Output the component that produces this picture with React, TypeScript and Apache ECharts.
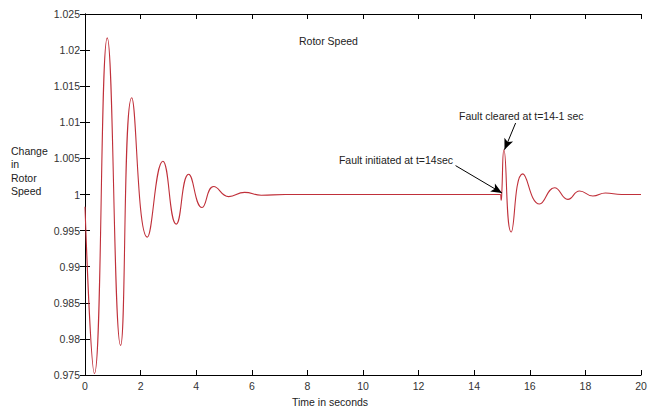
import React, { useEffect, useRef } from "react";
import * as echarts from "echarts";

// Rotor speed response (per unit) read at the turning points of the swing
const timeSec = [
  0, 0.34, 0.8, 1.28, 1.68, 2.24, 2.8, 3.28, 3.73, 4.21, 4.63, 5.17, 5.74, 6.34,
  7.2, 8, 10, 12, 14, 14.94, 14.97, 14.99, 15.07, 15.33, 15.75, 16.35, 16.89,
  17.37, 17.79, 18.27, 18.72, 19.3, 20,
];
const rotorSpeed = [
  0.9983, 0.9752, 1.0217, 0.9791, 1.0134, 0.9941, 1.0046, 0.9959, 1.0028,
  0.9982, 1.0011, 0.9997, 1.0003, 0.9999, 1.0, 1.0, 1.0, 1.0, 1.0, 1.0, 0.9992,
  1.0, 1.0062, 0.9948, 1.00285, 0.99868, 1.00094, 0.99933, 1.00049, 0.99979,
  1.0002, 1.0, 1.0,
];

const xTicks = { min: 0, max: 20, interval: 2 };
const yTicks = { min: 0.975, max: 1.025, interval: 0.005 };

// Annotation arrows: [tail, head] in (time, speed)
const clearedArrow = [
  [15.49, 1.0099],
  [15.09, 1.0062],
];
const initiatedArrow = [
  [13.33, 1.004],
  [15.0, 1.0002],
];

const FONT = "Liberation Sans, Arial, sans-serif";
const TEXT_FONT = `10.5px ${FONT}`;

export default function App() {
  const ref = useRef<HTMLDivElement>(null);

  useEffect(() => {
    if (!ref.current) return;
    const chart = echarts.init(ref.current, undefined, { renderer: "svg" });
    const fmt = (v: number) => parseFloat(v.toFixed(3)).toString();
    const axisLine = { lineStyle: { color: "#000", width: 1 } };
    const tick = { show: true, inside: true, length: 5, lineStyle: { color: "#000" } };
    const label = { color: "#333", fontSize: 10.5, fontFamily: FONT };

    chart.setOption({
      animation: false,
      backgroundColor: "#fff",
      grid: { left: 85, right: 16, top: 14, bottom: 37 },
      xAxis: [
        {
          type: "value",
          ...xTicks,
          axisLine,
          axisTick: tick,
          axisLabel: { ...label, margin: 5, formatter: fmt },
          splitLine: { show: false },
        },
        {
          type: "value",
          position: "top",
          ...xTicks,
          axisLine,
          axisTick: tick,
          axisLabel: { show: false },
          splitLine: { show: false },
        },
      ],
      yAxis: [
        {
          type: "value",
          ...yTicks,
          axisLine: { show: true, ...axisLine },
          axisTick: tick,
          axisLabel: { ...label, margin: 5, formatter: fmt },
          splitLine: { show: false },
        },
        {
          type: "value",
          position: "right",
          ...yTicks,
          axisLine: { show: true, ...axisLine },
          axisTick: tick,
          axisLabel: { show: false },
          splitLine: { show: false },
        },
      ],
      series: [
        {
          type: "line",
          data: timeSec.map((t, i) => [t, rotorSpeed[i]]),
          showSymbol: false,
          smooth: 0.5,
          clip: true,
          lineStyle: { color: "#c0303a", width: 1.1 },
          markLine: {
            silent: true,
            symbol: ["none", "arrow"],
            symbolSize: [7, 11],
            label: { show: false },
            lineStyle: { color: "#000", width: 1, type: "solid" },
            data: [
              [{ coord: clearedArrow[0] }, { coord: clearedArrow[1] }],
              [{ coord: initiatedArrow[0] }, { coord: initiatedArrow[1] }],
            ],
          },
        },
      ],
      graphic: [
        {
          type: "text",
          left: 299,
          top: 35,
          style: { text: "Rotor Speed", font: TEXT_FONT, fill: "#222" },
        },
        {
          type: "text",
          left: 459,
          top: 110,
          style: { text: "Fault cleared at t=14-1 sec", font: TEXT_FONT, fill: "#222" },
        },
        {
          type: "text",
          right: 657 - 453,
          top: 154,
          style: { text: "Fault initiated at t=14sec", font: TEXT_FONT, fill: "#222" },
        },
        {
          type: "text",
          left: 11,
          top: 144,
          style: {
            text: "Change\nin\nRotor\nSpeed",
            font: TEXT_FONT,
            lineHeight: 13.5,
            fill: "#222",
          },
        },
        {
          type: "text",
          left: 292,
          top: 396,
          style: { text: "Time in seconds", font: TEXT_FONT, fill: "#222" },
        },
      ],
    });
    return () => chart.dispose();
  }, []);

  return (
    <div
      ref={ref}
      style={{ position: "fixed", left: 0, top: 0, width: 657, height: 412, background: "#fff" }}
    />
  );
}
